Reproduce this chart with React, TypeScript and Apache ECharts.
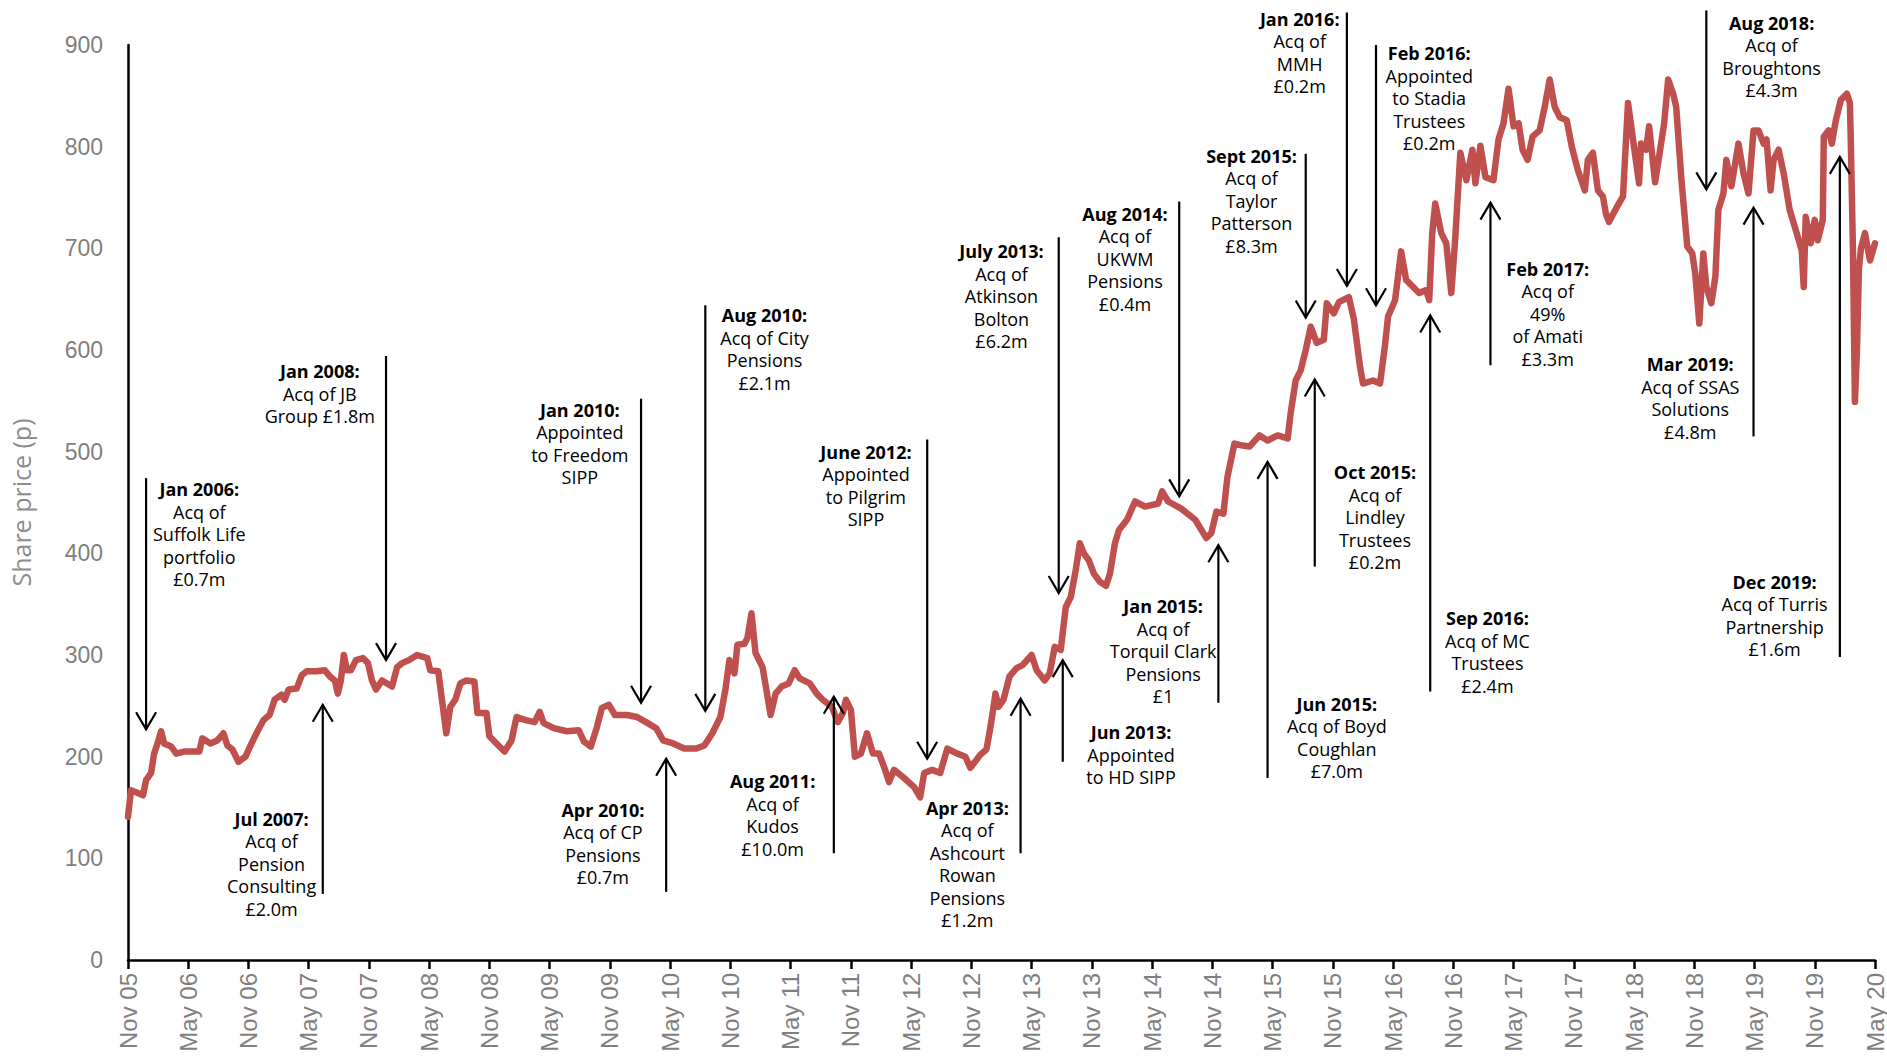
import React, { useEffect, useRef } from "react";
import * as echarts from "echarts";

// x = months since Nov 2005, y = share price (p)
const PRICE: [number, number][] = [
  [0, 141], [0.3, 167], [0.8, 165], [1.5, 162], [1.8, 177], [2.3, 184], [2.6, 203], [3.0, 215], [3.3, 225], [3.6, 213],
  [4.3, 210], [4.8, 203], [5.6, 205], [7.1, 205], [7.4, 218], [8.2, 213], [8.9, 216], [9.5, 223], [9.9, 211], [10.4, 207],
  [11.0, 195], [11.7, 200], [12.3, 213], [12.8, 223], [13.5, 236], [14.1, 241], [14.6, 256], [15.3, 261], [15.6, 256], [16.0, 266],
  [16.8, 267], [17.3, 280], [17.8, 284], [18.8, 284], [19.6, 285], [20.1, 279], [20.6, 275], [20.9, 262], [21.2, 275], [21.5, 300],
  [21.8, 285], [22.2, 285], [22.7, 295], [23.4, 297], [23.9, 292], [24.3, 275], [24.7, 266], [25.3, 275], [25.8, 272], [26.3, 269],
  [26.8, 288], [27.3, 292], [28.0, 295], [28.8, 300], [29.8, 297], [30.1, 285], [30.9, 284], [31.4, 246], [31.7, 223], [32.1, 249],
  [32.6, 256], [33.1, 272], [33.7, 275], [34.5, 274], [34.8, 243], [35.7, 243], [36.0, 220], [36.7, 213], [37.5, 205], [38.2, 216],
  [38.7, 239], [39.6, 236], [40.5, 234], [41.0, 244], [41.4, 233], [42.4, 228], [43.7, 225], [44.9, 226], [45.4, 215], [46.1, 210],
  [46.7, 229], [47.2, 248], [47.9, 251], [48.5, 241], [49.7, 241], [50.7, 239], [51.6, 234], [52.6, 228], [53.3, 216], [54.3, 213],
  [55.4, 208], [56.6, 208], [57.4, 211], [58.2, 223], [59.0, 239], [59.5, 266], [59.9, 295], [60.4, 282], [60.7, 310], [61.4, 311],
  [61.7, 317], [62.1, 341], [62.5, 302], [63.0, 292], [63.2, 288], [63.7, 259], [64.0, 241], [64.5, 262], [65.1, 269], [65.8, 272],
  [66.4, 285], [66.9, 277], [67.9, 272], [68.6, 262], [69.2, 256], [70.1, 249], [70.7, 234], [71.2, 243], [71.5, 256], [72.0, 246],
  [72.4, 200], [73.0, 203], [73.6, 223], [74.2, 203], [74.8, 203], [75.3, 190], [75.8, 175], [76.3, 187], [77.3, 179], [78.3, 170],
  [78.9, 160], [79.3, 184], [80.1, 187], [80.9, 184], [81.6, 208], [82.6, 203], [83.4, 200], [83.9, 189], [84.9, 202], [85.5, 207],
  [85.9, 229], [86.4, 262], [86.7, 249], [87.2, 256], [87.8, 279], [88.5, 287], [89.1, 290], [90.0, 300], [90.5, 285], [91.3, 275],
  [91.8, 282], [92.3, 308], [92.9, 305], [93.4, 347], [93.9, 357], [94.4, 384], [94.8, 410], [95.2, 400], [95.7, 393], [96.2, 380],
  [96.8, 372], [97.4, 368], [97.8, 380], [98.3, 410], [98.7, 423], [99.5, 433], [100.3, 451], [101.3, 446], [102.6, 449], [103.0, 461],
  [103.6, 451], [104.9, 444], [106.3, 433], [107.4, 415], [107.9, 420], [108.4, 441], [109.1, 439], [109.5, 475], [110.2, 508], [111.0, 506],
  [111.7, 505], [112.7, 516], [113.5, 511], [114.5, 516], [115.5, 513], [115.8, 538], [116.3, 570], [116.8, 580], [117.3, 600], [117.8, 623],
  [118.4, 607], [119.1, 610], [119.4, 646], [120.1, 636], [120.6, 647], [121.6, 652], [122.1, 630], [122.7, 584], [123.0, 567], [124.0, 570],
  [124.7, 567], [125.2, 605], [125.5, 633], [126.2, 649], [126.8, 697], [127.3, 669], [128.0, 662], [128.6, 656], [129.3, 659], [129.6, 649],
  [129.9, 715], [130.2, 744], [130.8, 715], [131.3, 705], [131.8, 656], [132.2, 711], [132.5, 761], [132.7, 794], [133.3, 767], [133.9, 797],
  [134.2, 764], [134.7, 801], [135.2, 770], [136.0, 767], [136.5, 807], [137.0, 823], [137.5, 857], [138.0, 820], [138.5, 823], [138.9, 797],
  [139.4, 787], [139.9, 810], [140.6, 816], [141.1, 839], [141.6, 866], [142.1, 839], [142.6, 829], [143.3, 826], [143.8, 800], [144.4, 777],
  [145.1, 757], [145.4, 787], [145.9, 794], [146.4, 757], [146.9, 751], [147.2, 734], [147.5, 726], [148.2, 739], [148.9, 751], [149.4, 843],
  [149.9, 807], [150.5, 764], [150.7, 803], [151.2, 797], [151.5, 820], [152.1, 765], [152.6, 797], [153.0, 823], [153.4, 866], [153.9, 852],
  [154.2, 839], [154.7, 770], [155.3, 702], [155.8, 695], [156.1, 675], [156.5, 626], [156.9, 695], [157.2, 662], [157.7, 646], [158.1, 672],
  [158.4, 738], [158.9, 754], [159.2, 787], [159.7, 761], [160.4, 803], [160.9, 774], [161.4, 754], [161.9, 816], [162.4, 816], [162.9, 803],
  [163.2, 807], [163.6, 757], [163.9, 787], [164.4, 797], [164.9, 774], [165.5, 738], [166.2, 715], [166.7, 698], [166.9, 662], [167.1, 731],
  [167.6, 705], [168.0, 728], [168.3, 708], [168.8, 728], [168.9, 810], [169.4, 816], [169.7, 803], [170.1, 826], [170.6, 846], [171.2, 852],
  [171.5, 843], [171.6, 800], [171.8, 700], [172.0, 549], [172.2, 600], [172.4, 680], [172.6, 700], [173.0, 715], [173.5, 688], [174.0, 705],
];

const X_TICK_LABELS = [
  "Nov 05", "May 06", "Nov 06", "May 07", "Nov 07", "May 08", "Nov 08", "May 09", "Nov 09", "May 10",
  "Nov 10", "May 11", "Nov 11", "May 12", "Nov 12", "May 13", "Nov 13", "May 14", "Nov 14", "May 15",
  "Nov 15", "May 16", "Nov 16", "May 17", "Nov 17", "May 18", "Nov 18", "May 19", "Nov 19", "May 20",
];

const Y_MIN = 0;
const Y_MAX = 900;
const Y_STEP = 100;

// Annotations: arrow at month `date` from value `from` to value `to`; label centred at (lx, ly)
type Ann = { date: number; from: number; to: number; lx: number; ly: number; title: string; lines: string[] };
const ANNOTATIONS: Ann[] = [
  { date: 1.8, from: 474, to: 227, lx: 7.1, ly: 463, title: "Jan 2006:", lines: ["Acq of", "Suffolk Life", "portfolio", "£0.7m"] },
  { date: 19.4, from: 65, to: 251, lx: 14.3, ly: 139, title: "Jul 2007:", lines: ["Acq of", "Pension", "Consulting", "£2.0m"] },
  { date: 25.7, from: 594, to: 295, lx: 19.1, ly: 579, title: "Jan 2008:", lines: ["Acq of JB", "Group £1.8m"] },
  { date: 51.1, from: 552, to: 253, lx: 45.0, ly: 541, title: "Jan 2010:", lines: ["Appointed", "to Freedom", "SIPP"] },
  { date: 53.6, from: 67, to: 198, lx: 47.3, ly: 148, title: "Apr 2010:", lines: ["Acq of CP", "Pensions", "£0.7m"] },
  { date: 57.5, from: 644, to: 245, lx: 63.4, ly: 634, title: "Aug 2010:", lines: ["Acq of City", "Pensions", "£2.1m"] },
  { date: 70.3, from: 105, to: 259, lx: 64.2, ly: 176, title: "Aug 2011:", lines: ["Acq of", "Kudos", "£10.0m"] },
  { date: 79.6, from: 512, to: 198, lx: 73.5, ly: 500, title: "June 2012:", lines: ["Appointed", "to Pilgrim", "SIPP"] },
  { date: 88.9, from: 105, to: 257, lx: 83.6, ly: 150, title: "Apr 2013:", lines: ["Acq of", "Ashcourt", "Rowan", "Pensions", "£1.2m"] },
  { date: 92.7, from: 711, to: 361, lx: 87.0, ly: 697, title: "July 2013:", lines: ["Acq of", "Atkinson", "Bolton", "£6.2m"] },
  { date: 93.1, from: 195, to: 295, lx: 99.9, ly: 224, title: "Jun 2013:", lines: ["Appointed", "to HD SIPP"] },
  { date: 104.7, from: 746, to: 456, lx: 99.3, ly: 734, title: "Aug 2014:", lines: ["Acq of", "UKWM", "Pensions", "£0.4m"] },
  { date: 108.6, from: 253, to: 408, lx: 103.1, ly: 348, title: "Jan 2015:", lines: ["Acq of", "Torquil Clark", "Pensions", "£1"] },
  { date: 113.5, from: 179, to: 490, lx: 120.4, ly: 252, title: "Jun 2015:", lines: ["Acq of Boyd", "Coughlan", "£7.0m"] },
  { date: 117.3, from: 793, to: 632, lx: 111.9, ly: 791, title: "Sept 2015:", lines: ["Acq of", "Taylor", "Patterson", "£8.3m"] },
  { date: 118.2, from: 387, to: 571, lx: 124.2, ly: 480, title: "Oct 2015:", lines: ["Acq of", "Lindley", "Trustees", "£0.2m"] },
  { date: 121.4, from: 932, to: 663, lx: 116.7, ly: 926, title: "Jan 2016:", lines: ["Acq of", "MMH", "£0.2m"] },
  { date: 124.3, from: 900, to: 644, lx: 129.6, ly: 892, title: "Feb 2016:", lines: ["Appointed", "to Stadia", "Trustees", "£0.2m"] },
  { date: 129.7, from: 264, to: 634, lx: 135.4, ly: 336, title: "Sep 2016:", lines: ["Acq of MC", "Trustees", "£2.4m"] },
  { date: 135.7, from: 585, to: 745, lx: 141.4, ly: 680, title: "Feb 2017:", lines: ["Acq of", "49%", "of Amati", "£3.3m"] },
  { date: 157.2, from: 934, to: 758, lx: 163.7, ly: 922, title: "Aug 2018:", lines: ["Acq of", "Broughtons", "£4.3m"] },
  { date: 161.9, from: 515, to: 740, lx: 155.6, ly: 586, title: "Mar 2019:", lines: ["Acq of SSAS", "Solutions", "£4.8m"] },
  { date: 170.5, from: 298, to: 790, lx: 164.0, ly: 372, title: "Dec 2019:", lines: ["Acq of Turris", "Partnership", "£1.6m"] },
];

const LINE_H = 22.5;
const ANN_FONT = '"Open Sans", "Noto Sans", sans-serif';

export default function App() {
  const ref = useRef<HTMLDivElement>(null);
  useEffect(() => {
    if (!ref.current) return;
    const chart = echarts.init(ref.current, undefined, { renderer: "svg" });
    chart.setOption({
      animation: false,
      backgroundColor: "#ffffff",
      grid: { left: 120, right: 0, top: 45, bottom: 96, containLabel: false },
      xAxis: {
        type: "value",
        min: 0,
        max: (X_TICK_LABELS.length - 1) * 6,
        interval: 6,
        splitLine: { show: false },
        axisLine: { show: true, lineStyle: { color: "#000", width: 2.5 } },
        axisTick: { show: true, length: 9, lineStyle: { color: "#000", width: 2.5 } },
        axisLabel: {
          rotate: 90,
          margin: 13,
          color: "#7f7f7f",
          fontSize: 24,
          fontFamily: '"Liberation Sans", Arial, sans-serif',
          formatter: (v: number) => {
            const i = Math.round(v / 6);
            return Math.abs(v - i * 6) < 1e-6 ? X_TICK_LABELS[i] ?? "" : "";
          },
        },
      },
      yAxis: {
        type: "value",
        min: Y_MIN,
        max: Y_MAX,
        interval: Y_STEP,
        name: "Share price (p)",
        nameLocation: "middle",
        nameGap: 95,
        nameTextStyle: { color: "#8c8c8c", fontSize: 25, fontFamily: ANN_FONT },
        splitLine: { show: false },
        axisLine: { show: true, lineStyle: { color: "#000", width: 2.5 } },
        axisTick: { show: false },
        axisLabel: {
          margin: 25,
          color: "#7f7f7f",
          fontSize: 23,
          fontFamily: '"Liberation Sans", Arial, sans-serif',
        },
      },
      series: [
        {
          type: "line",
          data: PRICE,
          showSymbol: false,
          z: 2,
          lineStyle: { color: "#C0504D", width: 6.5, cap: "round", join: "round" },
        },
        {
          type: "custom",
          z: 3,
          clip: false,
          data: ANNOTATIONS.map((a) => [a.date, a.from, a.to]),
          encode: { x: 0, y: [1, 2] },
          renderItem: (params: any, api: any) => {
            const a = ANNOTATIONS[params.dataIndex];
            const p1 = api.coord([a.date, a.from]);
            const p2 = api.coord([a.date, a.to]);
            const dir = p2[1] > p1[1] ? 1 : -1;
            const head = [
              [p2[0] - 10, p2[1] - dir * 17],
              [p2[0], p2[1]],
              [p2[0] + 10, p2[1] - dir * 17],
            ];
            const t = api.coord([a.lx, a.ly]);
            const children: any[] = [
              { type: "line", shape: { x1: p1[0], y1: p1[1], x2: p2[0], y2: p2[1] }, style: { stroke: "#000", lineWidth: 2.2 } },
              { type: "polyline", shape: { points: head }, style: { stroke: "#000", lineWidth: 2.2, fill: null } },
            ];
            [a.title, ...a.lines].forEach((s, i) => {
              children.push({
                type: "text",
                x: t[0],
                y: t[1] + i * LINE_H,
                style: {
                  text: s,
                  fill: "#000",
                  fontSize: 18,
                  fontWeight: i === 0 ? "bold" : "normal",
                  fontFamily: ANN_FONT,
                  align: "center",
                  verticalAlign: "middle",
                },
              });
            });
            return { type: "group", children };
          },
        },
      ],
    });
    return () => chart.dispose();
  }, []);
  return <div ref={ref} style={{ position: "absolute", left: 0, top: 0, width: 1887, height: 1056 }} />;
}
